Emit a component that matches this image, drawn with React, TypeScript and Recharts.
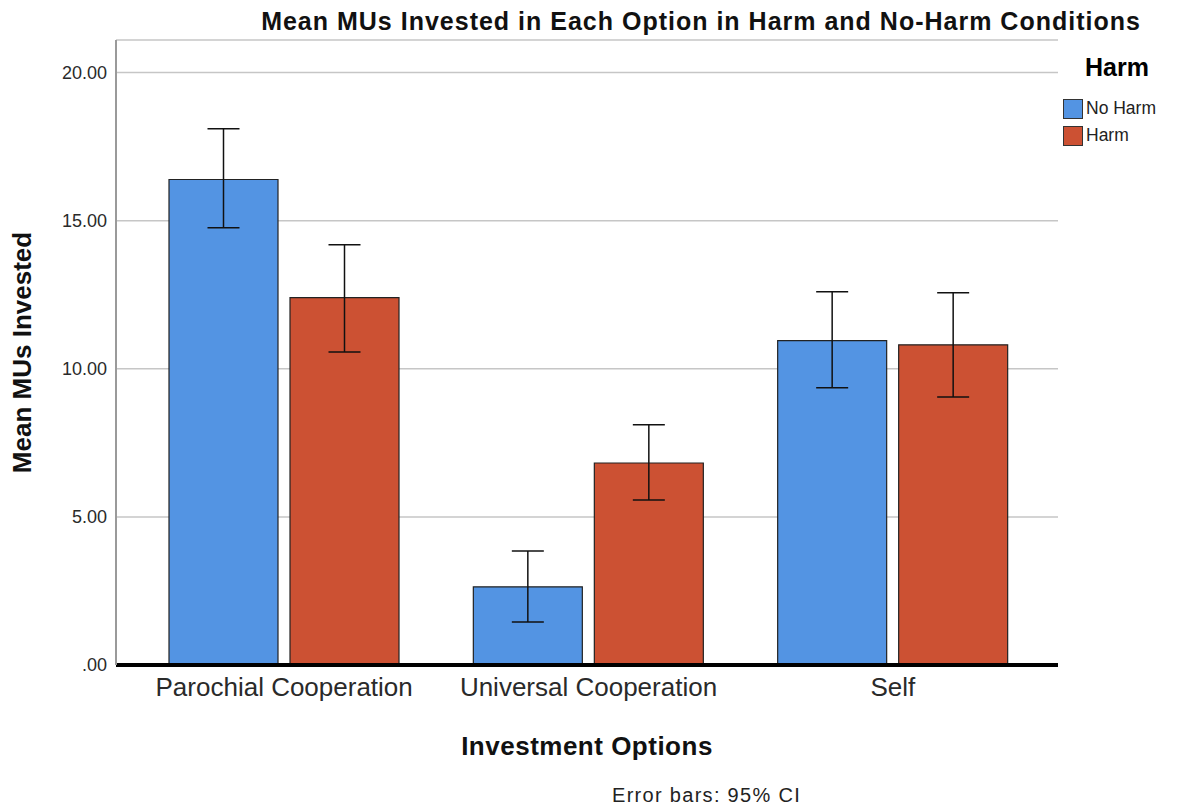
import { BarChart, Bar, XAxis, YAxis, CartesianGrid, ErrorBar, Label } from 'recharts'

const categories = ['Parochial Cooperation', 'Universal Cooperation', 'Self']
const noHarmMeans = [16.39, 2.64, 10.95]
const noHarmLower = [14.76, 1.45, 9.36]
const noHarmUpper = [18.1, 3.85, 12.6]
const harmMeans = [12.4, 6.82, 10.81]
const harmLower = [10.57, 5.57, 9.05]
const harmUpper = [14.19, 8.11, 12.57]
const yTicks = [0, 5, 10, 15, 20]

const BLUE = '#5394e3'
const RED = '#cc5133'
const FONT = '"Liberation Sans", Arial, sans-serif'

const data = categories.map((name, i) => ({
  name,
  noHarm: noHarmMeans[i],
  noHarmErr: [noHarmMeans[i] - noHarmLower[i], noHarmUpper[i] - noHarmMeans[i]],
  harm: harmMeans[i],
  harmErr: [harmMeans[i] - harmLower[i], harmUpper[i] - harmMeans[i]],
}))

function LegendBox() {
  const items = [
    { label: 'No Harm', color: BLUE },
    { label: 'Harm', color: RED },
  ]
  return (
    <div style={{ position: 'absolute', left: 1063, top: 53, fontFamily: FONT }}>
      <div style={{ fontWeight: 'bold', fontSize: 25, marginLeft: 22, marginBottom: 13, lineHeight: '29px' }}>
        Harm
      </div>
      {items.map(item => (
        <div key={item.label} style={{ display: 'flex', alignItems: 'center', height: 27 }}>
          <div
            style={{
              width: 18,
              height: 18,
              background: item.color,
              border: '1px solid #333',
              marginRight: 3,
            }}
          />
          <span style={{ fontSize: 17.5, color: '#222' }}>{item.label}</span>
        </div>
      ))}
    </div>
  )
}

export default function App() {
  return (
    <div style={{ position: 'absolute', left: 0, top: 0, width: 1180, height: 809, background: '#fff', fontFamily: FONT }}>
      <div
        style={{
          position: 'absolute',
          top: 7,
          left: 701,
          transform: 'translateX(-50%)',
          whiteSpace: 'nowrap',
          fontWeight: 'bold',
          fontSize: 25,
          letterSpacing: 1,
          color: '#111',
        }}
      >
        Mean MUs Invested in Each Option in Harm and No-Harm Conditions
      </div>

      <BarChart
        width={1180}
        height={809}
        data={data}
        margin={{ top: 40, right: 122, bottom: 114, left: 0 }}
        barGap={12}
        barSize={109}
      >
        <CartesianGrid horizontal vertical={false} stroke="#c6c6c6" strokeWidth={1.5} />
        <XAxis
          dataKey="name"
          padding={{ left: 16, right: 13 }}
          tickLine={false}
          axisLine={{ stroke: '#000', strokeWidth: 4 }}
          tick={{ fill: '#2a2a2a', fontSize: 26, fontFamily: FONT }}
          tickMargin={7}
        >
          <Label
            value="Investment Options"
            position="bottom"
            offset={42}
            style={{ fontWeight: 'bold', fontSize: 26, letterSpacing: 0.5, fill: '#111', fontFamily: FONT }}
          />
        </XAxis>
        <YAxis
          width={116}
          domain={[0, 21.1]}
          ticks={yTicks}
          tickLine={false}
          axisLine={{ stroke: '#9a9a9a', strokeWidth: 2 }}
          tick={{ fill: '#2a2a2a', fontSize: 18, fontFamily: FONT }}
          tickMargin={3}
          tickFormatter={(v: number) => (v === 0 ? '.00' : v.toFixed(2))}
        >
          <Label
            value="Mean MUs Invested"
            angle={-90}
            position="center"
            dx={-36}
            style={{ fontWeight: 'bold', fontSize: 26, fill: '#111', fontFamily: FONT, textAnchor: 'middle' }}
          />
        </YAxis>
        <Bar dataKey="noHarm" fill={BLUE} stroke="#222" strokeWidth={1.2} isAnimationActive={false}>
          <ErrorBar dataKey="noHarmErr" width={16} stroke="#111" strokeWidth={1.5} isAnimationActive={false} />
        </Bar>
        <Bar dataKey="harm" fill={RED} stroke="#222" strokeWidth={1.2} isAnimationActive={false}>
          <ErrorBar dataKey="harmErr" width={16} stroke="#111" strokeWidth={1.5} isAnimationActive={false} />
        </Bar>
      </BarChart>

      <LegendBox />

      <div
        style={{
          position: 'absolute',
          left: 612,
          top: 784,
          fontSize: 20,
          letterSpacing: 1.3,
          color: '#222',
          whiteSpace: 'nowrap',
        }}
      >
        Error bars: 95% CI
      </div>
    </div>
  )
}
